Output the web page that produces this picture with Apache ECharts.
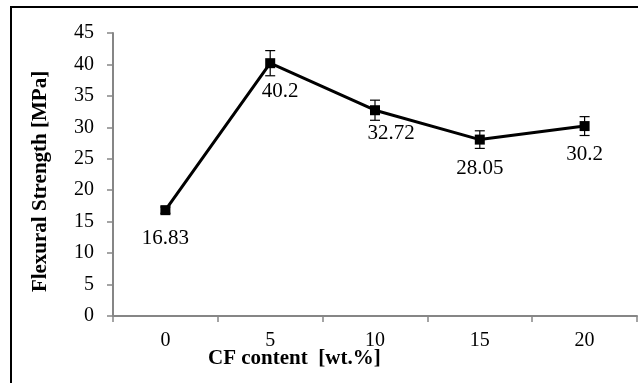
<!DOCTYPE html>
<html>
<head>
<meta charset="utf-8">
<script src="https://cdn.jsdelivr.net/npm/echarts@6/dist/echarts.min.js"></script>
<style>
html,body{margin:0;padding:0;background:#fff;}
#chart{width:638px;height:383px;}
</style>
</head>
<body>
<div id="chart"></div>
<script>
const categories = ['0', '5', '10', '15', '20'];
const strength = [16.83, 40.2, 32.72, 28.05, 30.2];
const errors = [0.5, 2.0, 1.6, 1.4, 1.5];
const labelTexts = ['16.83', '40.2', '32.72', '28.05', '30.2'];
const yTicks = [0, 5, 10, 15, 20, 25, 30, 35, 40, 45];

const font = '"Liberation Serif", "Times New Roman", serif';
const chart = echarts.init(document.getElementById('chart'));

const labelOffsets = [[0, 0], [10, 0], [16, -5], [0, 0], [0, 0]];

chart.setOption({
  animation: false,
  backgroundColor: '#fff',
  grid: { left: 113, right: 1, top: 33, bottom: 67 },
  xAxis: {
    type: 'category',
    data: categories,
    boundaryGap: true,
    axisLine: { lineStyle: { color: '#868686', width: 2 } },
    axisTick: { show: true, length: 6, lineStyle: { color: '#868686', width: 1.5 } },
    axisLabel: { color: '#000', fontFamily: font, fontSize: 20, margin: 15 }
  },
  yAxis: {
    type: 'value',
    min: yTicks[0],
    max: yTicks[yTicks.length - 1],
    interval: 5,
    splitLine: { show: false },
    axisLine: { show: true, lineStyle: { color: '#868686', width: 2 } },
    axisTick: { show: true, length: 6, lineStyle: { color: '#868686', width: 1.5 } },
    axisLabel: { color: '#000', fontFamily: font, fontSize: 20, margin: 19 },
    name: 'Flexural Strength [MPa]',
    nameLocation: 'middle',
    nameGap: 62,
    nameTextStyle: { color: '#000', fontFamily: font, fontSize: 21, fontWeight: 'bold', padding: [0, 14, 0, 0] }
  },
  graphic: [
    {
      type: 'rect',
      shape: { x: 11, y: 7, width: 650, height: 400 },
      style: { fill: 'none', stroke: '#000', lineWidth: 2 },
      silent: true
    },
    {
      type: 'text',
      left: 208,
      top: 348,
      style: { text: 'CF content  [wt.%]', fill: '#000', font: 'bold 21px ' + font }
    }
  ],
  series: [
    {
      type: 'custom',
      z: 3,
      renderItem: function (params, api) {
        const i = api.value(0);
        const v = api.value(1);
        const e = api.value(2);
        const top = api.coord([i, v + e]);
        const bot = api.coord([i, v - e]);
        const hw = 5;
        const st = { stroke: '#000', lineWidth: 1.2 };
        return {
          type: 'group',
          children: [
            { type: 'line', shape: { x1: top[0], y1: top[1], x2: bot[0], y2: bot[1] }, style: st },
            { type: 'line', shape: { x1: top[0] - hw, y1: top[1], x2: top[0] + hw, y2: top[1] }, style: st },
            { type: 'line', shape: { x1: bot[0] - hw, y1: bot[1], x2: bot[0] + hw, y2: bot[1] }, style: st }
          ]
        };
      },
      data: strength.map((v, i) => [i, v, errors[i]])
    },
    {
      type: 'line',
      z: 4,
      data: strength.map((v, i) => ({
        value: v,
        label: { offset: labelOffsets[i] }
      })),
      symbol: 'rect',
      symbolSize: 10,
      itemStyle: { color: '#000' },
      lineStyle: { color: '#000', width: 3 },
      label: {
        show: true,
        position: 'bottom',
        distance: 13,
        color: '#000',
        fontFamily: font,
        fontSize: 21,
        formatter: p => labelTexts[p.dataIndex]
      }
    }
  ]
});
</script>
</body>
</html>
